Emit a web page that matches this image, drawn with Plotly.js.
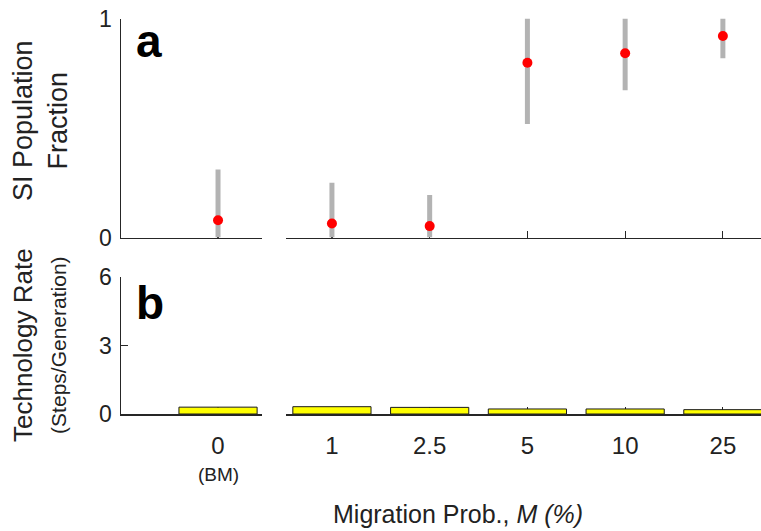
<!DOCTYPE html>
<html>
<head>
<meta charset="utf-8">
<script src="https://cdn.plot.ly/plotly-3.0.1.min.js"></script>
<style>
  html, body { margin: 0; padding: 0; background: #fff; }
  #chart { width: 761px; height: 531px; }
</style>
</head>
<body>
<div id="chart"></div>
<script>
// Migration probability categories: the no-migration baseline (BM) sits on its own axis segment
const bmCategory = ['0'];
const bmNote = '(BM)';
const migCategories = ['1', '2.5', '5', '10', '25'];

// Panel a: fraction of SI population (median with range)
const siBM = [0.079];
const siBMLow = [0.0];
const siBMHigh = [0.31];
const siMig = [0.064, 0.052, 0.798, 0.841, 0.92];
const siMigLow = [0.0, 0.0, 0.518, 0.672, 0.818];
const siMigHigh = [0.25, 0.194, 1.0, 1.0, 1.0];

// Panel b: technology rate (steps per generation)
const techBM = [0.30];
const techMig = [0.32, 0.29, 0.22, 0.22, 0.19];

const FONT = 'Liberation Sans, Arial, Helvetica, sans-serif';
const AXIS = '#262626';
const W = 761, H = 531;
const px = v => v / W;
const py = v => 1 - v / H;

function errBar(mean, lo, hi) {
  return {
    type: 'data', symmetric: false,
    array: hi.map((h, i) => h - mean[i]),
    arrayminus: lo.map((l, i) => mean[i] - l),
    color: '#b3b3b3', thickness: 5, width: 0
  };
}

const pointStyle = { color: '#ff0000', size: 10 };
const barStyle = { color: '#ffff00', line: { color: '#1a1a1a', width: 1 } };

const traces = [
  { type: 'scatter', mode: 'markers', x: bmCategory, y: siBM,
    error_y: errBar(siBM, siBMLow, siBMHigh), marker: pointStyle,
    cliponaxis: false, xaxis: 'x', yaxis: 'y', hoverinfo: 'skip' },
  { type: 'scatter', mode: 'markers', x: migCategories, y: siMig,
    error_y: errBar(siMig, siMigLow, siMigHigh), marker: pointStyle,
    cliponaxis: false, xaxis: 'x2', yaxis: 'y2', hoverinfo: 'skip' },
  { type: 'bar', x: bmCategory, y: techBM, width: 0.8, marker: barStyle,
    xaxis: 'x3', yaxis: 'y3', hoverinfo: 'skip' },
  { type: 'bar', x: migCategories, y: techMig, width: 0.8, marker: barStyle,
    xaxis: 'x4', yaxis: 'y4', hoverinfo: 'skip' }
];

const baseX = {
  type: 'category', showline: true, linecolor: AXIS, linewidth: 1.5,
  ticks: 'inside', ticklen: 7, tickwidth: 1.2, tickcolor: AXIS,
  showgrid: false, zeroline: false, fixedrange: true, layer: 'below traces'
};
const hiddenY = {
  showline: false, showticklabels: false, ticks: '', showgrid: false,
  zeroline: false, fixedrange: true
};
const shownY = {
  showline: true, linecolor: AXIS, linewidth: 1.5,
  ticks: 'inside', ticklen: 7, tickwidth: 1.2, tickcolor: AXIS,
  showgrid: false, zeroline: false, fixedrange: true, layer: 'below traces',
  tickfont: { family: FONT, size: 23, color: '#222' }, ticklabelstandoff: 3
};

const bmRange = [-0.993, 0.45];
const migRange = [-0.47, 4.39];
const topDomain = [py(237.5), py(18.5)];
const botDomain = [py(414), py(277)];
const bmDomain = [px(121), px(262)];
const migDomain = [px(286), 1];

const tickFont = { family: FONT, size: 24, color: '#222' };

const layout = {
  width: W, height: H,
  margin: { l: 0, r: 0, t: 0, b: 0 },
  paper_bgcolor: '#fff', plot_bgcolor: 'rgba(0,0,0,0)',
  showlegend: false, bargap: 0,
  font: { family: FONT, color: '#222' },
  xaxis: Object.assign({}, baseX, { domain: bmDomain, anchor: 'y', range: bmRange, showticklabels: false }),
  xaxis2: Object.assign({}, baseX, { domain: migDomain, anchor: 'y2', range: migRange, showticklabels: false }),
  xaxis3: Object.assign({}, baseX, { domain: bmDomain, anchor: 'y3', range: bmRange,
    tickfont: tickFont, ticklabelstandoff: 10 }),
  xaxis4: Object.assign({}, baseX, { domain: migDomain, anchor: 'y4', range: migRange,
    tickfont: tickFont, ticklabelstandoff: 10 }),
  yaxis: Object.assign({}, shownY, { domain: topDomain, anchor: 'x', range: [0, 1],
    tickmode: 'array', tickvals: [0, 1] }),
  yaxis2: Object.assign({}, hiddenY, { domain: topDomain, anchor: 'x2', range: [0, 1] }),
  yaxis3: Object.assign({}, shownY, { domain: botDomain, anchor: 'x3', range: [0, 6],
    tickmode: 'array', tickvals: [0, 3, 6] }),
  yaxis4: Object.assign({}, hiddenY, { domain: botDomain, anchor: 'x4', range: [0, 6] }),
  annotations: [
    // note under the baseline category label
    { text: bmNote, xref: 'x3', yref: 'paper', x: 0, y: py(474),
      xanchor: 'center', yanchor: 'middle', showarrow: false,
      font: { family: FONT, size: 19, color: '#222' } },
    { text: '<b>a</b>', xref: 'paper', yref: 'paper', x: px(134), y: py(41),
      xanchor: 'left', yanchor: 'middle', showarrow: false,
      font: { family: FONT, size: 46, color: '#000' } },
    { text: '<b>b</b>', xref: 'paper', yref: 'paper', x: px(134), y: py(303),
      xanchor: 'left', yanchor: 'middle', showarrow: false,
      font: { family: FONT, size: 46, color: '#000' } },
    { text: 'SI Population<br>Fraction', xref: 'paper', yref: 'paper',
      x: px(41), y: py(121), xanchor: 'center', yanchor: 'middle',
      textangle: -90, showarrow: false,
      font: { family: FONT, size: 27, color: '#222' } },
    { text: "Technology Rate<br><span style='font-size:21px'>(Steps/Generation)</span>",
      xref: 'paper', yref: 'paper', x: px(39), y: py(345),
      xanchor: 'center', yanchor: 'middle', textangle: -90, showarrow: false,
      font: { family: FONT, size: 26, color: '#222' } },
    { text: 'Migration Prob., <i>M (%)</i>', xref: 'paper', yref: 'paper',
      x: px(458), y: py(514), xanchor: 'center', yanchor: 'middle', showarrow: false,
      font: { family: FONT, size: 25, color: '#222' } }
  ]
};

Plotly.newPlot('chart', traces, layout, { staticPlot: true, displayModeBar: false });
</script>
</body>
</html>
